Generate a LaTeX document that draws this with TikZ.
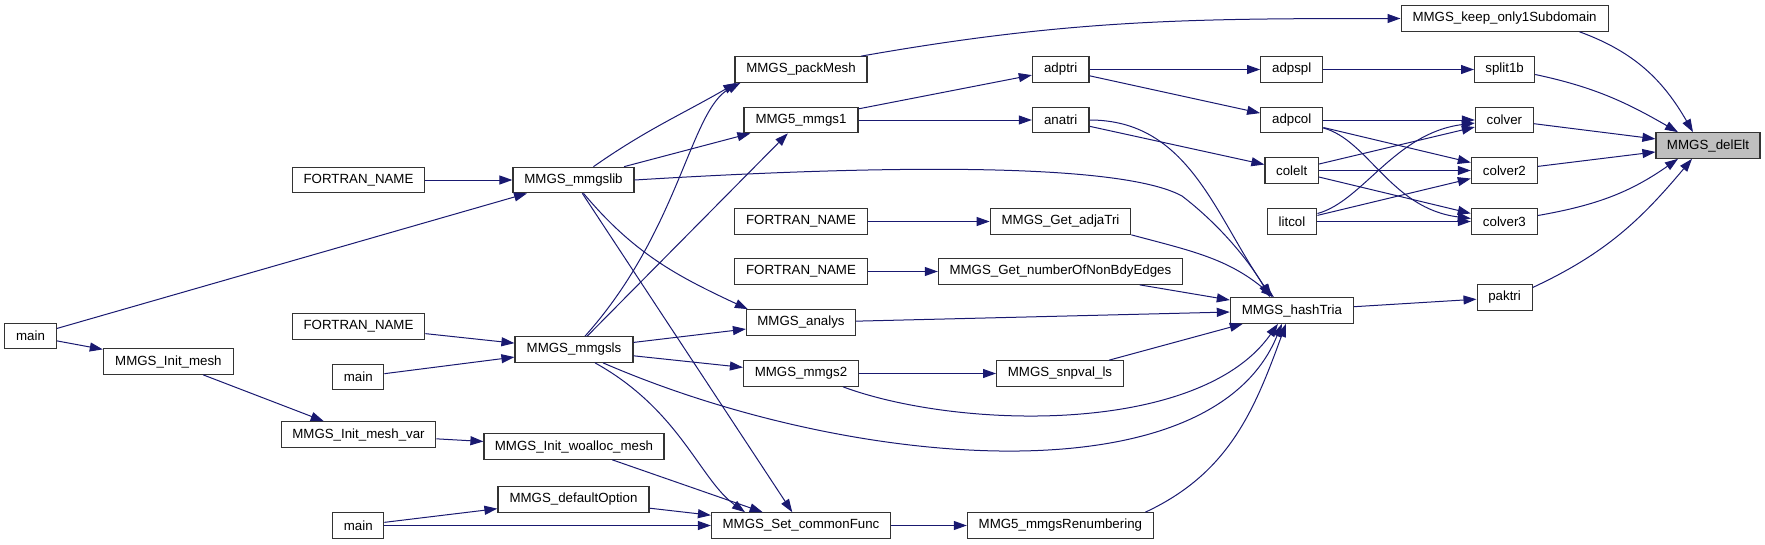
\documentclass[tikz,border=0pt]{standalone}
\usepackage{fontspec}
\setmainfont{Liberation Sans}
\usetikzlibrary{arrows.meta}
\definecolor{edgeblue}{HTML}{191970}
\definecolor{focusgray}{HTML}{BFBFBF}
\begin{document}
\begin{tikzpicture}[x=1pt, y=-1pt,
  fn/.style={draw=black!80, fill=white, line width=1.2pt, minimum height=25.5pt, inner sep=0pt, font=\fontsize{13.3}{15}\selectfont},
  call/.style={draw=edgeblue, line width=1pt, -{Triangle[length=13pt,width=9pt]}}]
  \useasboundingbox (0,0) rectangle (1765,544);
  % column 0 -- 2
  \node[fn, minimum width=52pt]    (mainA)       at (30.5,336)   {main};
  \node[fn, minimum width=130pt]   (initmesh)    at (168.4,361.5) {MMGS\_Init\_mesh};
  \node[fn, minimum width=132.5pt] (fortranA)    at (358.5,180)  {FORTRAN\_NAME};
  \node[fn, minimum width=132.5pt] (fortranB)    at (358.5,326.5) {FORTRAN\_NAME};
  \node[fn, minimum width=51pt]    (mainB)       at (358.3,377)  {main};
  \node[fn, minimum width=154.5pt] (initmeshvar) at (358.5,434.5) {MMGS\_Init\_mesh\_var};
  \node[fn, minimum width=51pt]    (mainC)       at (358.3,525.5) {main};
  % column 3
  \node[fn, minimum width=121pt]   (mmgslib)     at (573.5,180)  {MMGS\_mmgslib};
  \node[fn, minimum width=118pt]   (mmgsls)      at (574,349.5)  {MMGS\_mmgsls};
  \node[fn, minimum width=180pt]   (woalloc)     at (574,446.5)  {MMGS\_Init\_woalloc\_mesh};
  \node[fn, minimum width=151pt]   (defaultopt)  at (573.5,499.5) {MMGS\_defaultOption};
  % column 4
  \node[fn, minimum width=132pt]   (packmesh)    at (801,69.5)   {MMGS\_packMesh};
  \node[fn, minimum width=114pt]   (mmgsone)     at (801,120)    {MMG5\_mmgs1};
  \node[fn, minimum width=132.5pt] (fortranC)    at (801,221.5)  {FORTRAN\_NAME};
  \node[fn, minimum width=132.5pt] (fortranD)    at (801,271.5)  {FORTRAN\_NAME};
  \node[fn, minimum width=109pt]   (analys)      at (801,322.5)  {MMGS\_analys};
  \node[fn, minimum width=115pt]   (mmgstwo)     at (801,373.5)  {MMGS\_mmgs2};
  \node[fn, minimum width=179pt]   (setcommon)   at (801,525.5)  {MMGS\_Set\_commonFunc};
  % column 5
  \node[fn, minimum width=56.6pt]  (adptri)      at (1060.7,69.5) {adptri};
  \node[fn, minimum width=56.6pt]  (anatri)      at (1060.7,120)  {anatri};
  \node[fn, minimum width=140.5pt] (adjatri)     at (1060.5,221.5) {MMGS\_Get\_adjaTri};
  \node[fn, minimum width=244pt]   (nonbdy)      at (1060.4,271.5) {MMGS\_Get\_numberOfNonBdyEdges};
  \node[fn, minimum width=126.7pt] (snpval)      at (1060,373.5)  {MMGS\_snpval\_ls};
  \node[fn, minimum width=186pt]   (renum)       at (1060.4,525.5) {MMG5\_mmgsRenumbering};
  % column 6
  \node[fn, minimum width=62pt]    (adpspl)      at (1291.7,69.5) {adpspl};
  \node[fn, minimum width=62pt]    (adpcol)      at (1291.7,120)  {adpcol};
  \node[fn, minimum width=53.5pt]  (colelt)      at (1291.7,170.5) {colelt};
  \node[fn, minimum width=49.7pt]  (litcol)      at (1292,221.5)  {litcol};
  \node[fn, minimum width=123pt]   (hashtria)    at (1291.9,310.5) {MMGS\_hashTria};
  % column 7 -- 8
  \node[fn, minimum width=207pt]   (keep)        at (1504.6,18.5) {MMGS\_keep\_only1Subdomain};
  \node[fn, minimum width=60pt]    (splitb)      at (1504.6,69.5) {split1b};
  \node[fn, minimum width=58pt]    (colver)      at (1504.4,120)  {colver};
  \node[fn, minimum width=66pt]    (colvertwo)   at (1504.4,170.5) {colver2};
  \node[fn, minimum width=66pt]    (colverthree) at (1504.4,221.5) {colver3};
  \node[fn, minimum width=55pt]    (paktri)      at (1504.6,297.5) {paktri};
  \node[fn, minimum width=104pt, fill=focusgray] (delelt) at (1708,145.5) {MMGS\_delElt};

  % calls into MMGS_delElt
  \draw[call] ([xshift=75pt]keep.south) to[out=-20,in=120] ([xshift=-15pt]delelt.north);
  \draw[call] ([yshift=-5pt]splitb.east) to[out=-12,in=150] ([xshift=-30pt]delelt.north);
  \draw[call] (colver) -- (delelt);
  \draw[call] (colvertwo) -- (delelt);
  \draw[call] ([yshift=6pt]colverthree.east) to[out=10,in=-145] ([xshift=-30pt]delelt.south);
  \draw[call] ([yshift=10pt]paktri.east) to[out=25,in=-130] ([xshift=-16pt]delelt.south);
  \draw[call] ([xshift=60pt]packmesh.north) to[out=10,in=180] (keep.west);
  \draw[call] (adptri) -- (adpspl);
  \draw[call] (adpspl) -- (splitb);
  \draw[call] (adptri) -- (adpcol);
  \draw[call] (adpcol) -- (colver);
  \draw[call] (adpcol) -- (colvertwo);
  \draw[call] ([yshift=-8pt]adpcol.east) .. controls +(45,12) and +(-80,-10) .. ([yshift=3pt]colverthree.west);
  \draw[call] (colelt) -- (colver);
  \draw[call] (colelt) -- (colvertwo);
  \draw[call] (colelt) -- (colverthree);
  \draw[call] ([yshift=8pt]litcol.east) .. controls +(45,-12) and +(-80,10) .. ([yshift=-3pt]colver.west);
  \draw[call] (litcol) -- (colvertwo);
  \draw[call] (litcol) -- (colverthree);
  \draw[call] (anatri) -- (colelt);
  \draw[call] (mmgsone) -- (adptri);
  \draw[call] (mmgsone) -- (anatri);
  \draw[call] (hashtria) -- (paktri);

  % calls into MMGS_hashTria
  \draw[call] (anatri.east) to[out=0,in=125] ([xshift=-20pt]hashtria.north);
  \draw[call] (mmgslib.east) .. controls (880,165) and (1120,162) .. (1182,196) .. controls (1220,225) and (1250,262) .. ([xshift=-22pt]hashtria.north);
  \draw[call] (adjatri.south east) to[out=-15,in=140] ([xshift=-18pt]hashtria.north);
  \draw[call] (nonbdy) -- (hashtria);
  \draw[call] (analys) -- (hashtria);
  \draw[call] (snpval) -- (hashtria);
  \draw[call] ([xshift=42pt]mmgstwo.south) .. controls (960,430) and (1200,435) .. ([xshift=-14pt]hashtria.south);
  \draw[call] ([xshift=29pt]mmgsls.south) .. controls (850,470) and (1210,500) .. ([xshift=-10pt]hashtria.south);
  \draw[call] ([xshift=85pt]renum.north) to[out=25,in=-110] ([xshift=-6pt]hashtria.south);
  \draw[call] (mmgstwo) -- (snpval);
  \draw[call] (fortranC) -- (adjatri);
  \draw[call] (fortranD) -- (nonbdy);
  \draw[call] (setcommon) -- (renum);

  % library entry points
  \draw[call] ([xshift=20pt]mmgslib.north) to[out=35,in=-150] ([xshift=2pt]packmesh.south west);
  \draw[call] (mmgslib) -- (mmgsone);
  \draw[call] ([xshift=10pt]mmgslib.south) to[out=-50,in=155] ([xshift=2pt]analys.north west);
  \draw[call] (mmgslib) -- (setcommon);
  \draw[call] ([xshift=11pt]mmgsls.north) .. controls (680,230) and (690,110) .. ([xshift=6pt]packmesh.south west);
  \draw[call] (mmgsls) -- (mmgsone);
  \draw[call] (mmgsls) -- (analys);
  \draw[call] (mmgsls) -- (mmgstwo);
  \draw[call] ([xshift=21pt]mmgsls.south) .. controls (680,410) and (700,480) .. ([xshift=-56pt]setcommon.north);
  \draw[call] (fortranA) -- (mmgslib);
  \draw[call] (fortranB) -- (mmgsls);
  \draw[call] (mainA) -- (mmgslib);
  \draw[call] (mainB) -- (mmgsls);
  \draw[call] (mainA) -- (initmesh);
  \draw[call] (initmesh) -- (initmeshvar);
  \draw[call] (initmeshvar) -- (woalloc);
  \draw[call] (woalloc) -- (setcommon);
  \draw[call] (defaultopt) -- (setcommon);
  \draw[call] (mainC) -- (defaultopt);
  \draw[call] (mainC) -- (setcommon);
\end{tikzpicture}
\end{document}
